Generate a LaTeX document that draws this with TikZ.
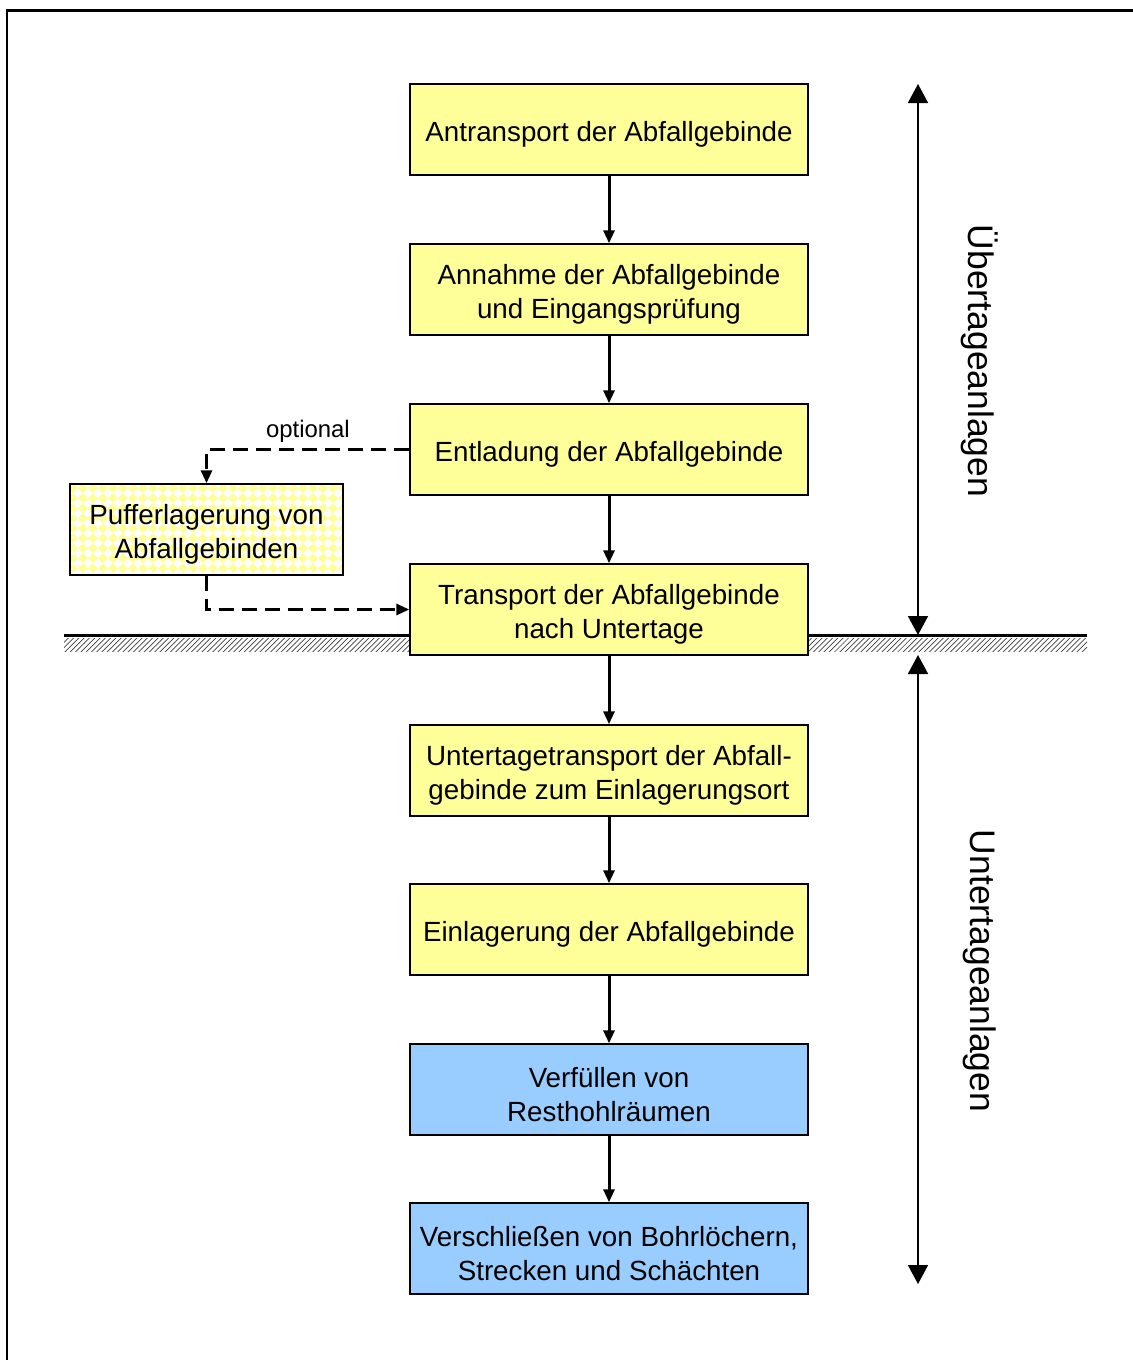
\documentclass[tikz,border=0pt]{standalone}
\usepackage{fontspec}
\setmainfont{Liberation Sans}
\usetikzlibrary{arrows.meta,patterns}
\definecolor{gelb}{HTML}{FFFF99}
\definecolor{blau}{HTML}{99CCFF}
\newcommand\hoch{\rule{0pt}{1.08em}}
% Rautenmuster fuer die Pufferlagerung
\pgfdeclarepatternformonly{rauten}{\pgfpointorigin}{\pgfpoint{5.6pt}{5.6pt}}{\pgfpoint{5.6pt}{5.6pt}}{%
\pgfpathmoveto{\pgfpoint{2.8pt}{0pt}}\pgfpathlineto{\pgfpoint{5.6pt}{2.8pt}}%
\pgfpathlineto{\pgfpoint{2.8pt}{5.6pt}}\pgfpathlineto{\pgfpoint{0pt}{2.8pt}}%
\pgfpathclose\pgfusepath{fill}}
\tikzset{
stufe/.style={draw, line width=0.03cm, minimum width=7.96cm, minimum height=1.82cm,
  inner sep=0pt, align=center, font=\fontsize{15.8}{19.3}\selectfont},
puffer/.style={stufe, minimum width=5.46cm, preaction={fill=white}, pattern=rauten, pattern color=gelb},
pfeil/.style={line width=0.06cm, -{Triangle[width=0.22cm,length=0.26cm]}},
strich/.style={line width=0.06cm, dash pattern=on 0.3cm off 0.16cm, -{Triangle[width=0.22cm,length=0.26cm]}},
doppel/.style={line width=0.035cm, {Triangle[width=0.4cm,length=0.38cm]}-{Triangle[width=0.4cm,length=0.38cm]}},
seite/.style={rotate=-90, font=\fontsize{20.2}{24}\selectfont}
}
\begin{document}
\begin{tikzpicture}[x=0.02cm, y=-0.02cm]
\useasboundingbox (0,0) rectangle (1133,1360);
\clip (0,0) rectangle (1133,1360);
\draw[line width=0.06cm] (7,10) rectangle (1200,1420);

% Gelaendeoberflaeche
\fill[pattern=north east lines, pattern color=black!75] (64,638) rectangle (1087,651);
\draw[line width=0.06cm] (64,635) -- (1087,635);

\foreach \n/\y/\farbe/\txt in {1/129.5/gelb/{Antransport der Abfallgebinde},
 2/289.5/gelb/{Annahme der Abfallgebinde\\und Eingangsprüfung},
 3/449.5/gelb/{Entladung der Abfallgebinde},
 4/609.5/gelb/{Transport der Abfallgebinde\\nach Untertage},
 5/770.5/gelb/{Untertagetransport der Abfall-\\gebinde zum Einlagerungsort},
 6/929.5/gelb/{Einlagerung der Abfallgebinde},
 7/1089.5/blau/{Verfüllen von\\Resthohlräumen},
 8/1248.5/blau/{Verschließen von Bohrlöchern,\\Strecken und Schächten}}
\node[stufe, fill=\farbe] (b\n) at (609,\y) {\hoch\txt};

\foreach \a/\b in {1/2,2/3,3/4,4/5,5/6,6/7,7/8}
\draw[pfeil] (b\a) -- (b\b);

\node[puffer] (puf) at (206.5,529.5) {\hoch Pufferlagerung von\\Abfallgebinden};
\draw[strich] (b3.west) -| node[pos=0.25, above, font=\fontsize{13.6}{16}\selectfont] (opt) {optional} (puf.north);
\draw[strich] (puf.south) |- (b4.west);

% Bereiche
\coordinate (ob) at (918,84);
\coordinate (om) at (918,635);
\coordinate (um) at (918,655);
\coordinate (ub) at (918,1284);
\draw[doppel] (ob) -- (om);
\draw[doppel] (um) -- (ub);
\node[seite] (ueber) at (980,361) {Übertageanlagen};
\node[seite] (unter) at (980,971) {Untertageanlagen};
\end{tikzpicture}
\end{document}
